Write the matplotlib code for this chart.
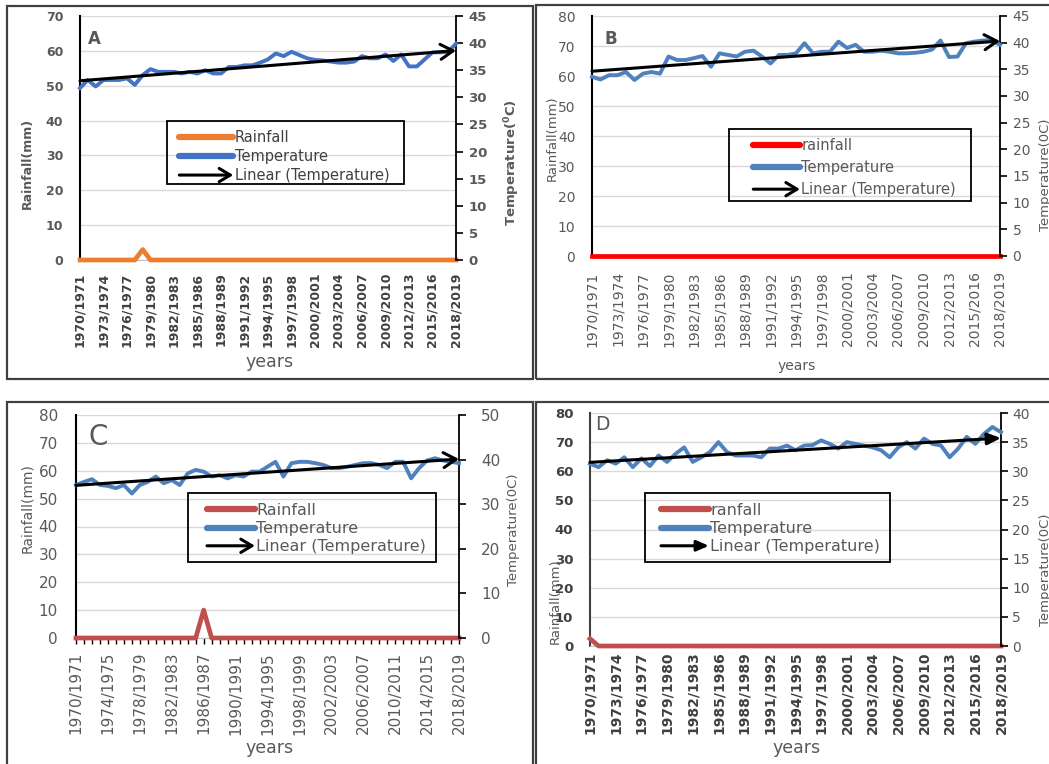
import numpy as np
import matplotlib
matplotlib.use("Agg")
import matplotlib.pyplot as plt
from matplotlib.patches import FancyArrowPatch, Rectangle
from matplotlib.lines import Line2D
from matplotlib.legend_handler import HandlerBase

# categories
years = [f"{y}/{y + 1}" for y in range(1970, 2019)]

# panel A
rain_a = [0, 0, 0, 0, 0, 0, 0, 0, 3, 0, 0, 0, 0, 0, 0, 0, 0, 0, 0, 0,
          0, 0, 0, 0, 0, 0, 0, 0, 0, 0, 0, 0, 0, 0, 0, 0, 0, 0, 0, 0,
          0, 0, 0, 0, 0, 0, 0, 0, 0]
temp_a = [31.7, 33.2, 32.0, 33.2, 33.2, 33.2, 33.5, 32.3, 34.1, 35.2,
          34.7, 34.7, 34.7, 34.4, 34.7, 34.4, 35.0, 34.4, 34.4, 35.6,
          35.6, 35.9, 35.9, 36.4, 37.0, 38.1, 37.6, 38.4, 37.8, 37.2,
          36.9, 36.8, 36.6, 36.4, 36.4, 36.6, 37.6, 37.2, 37.2, 37.9,
          36.7, 37.9, 35.7, 35.7, 37.0, 38.3, 38.3, 38.4, 39.9]

# panel B
rain_b = [0, 0, 0, 0, 0, 0, 0, 0, 0, 0, 0, 0, 0, 0, 0, 0, 0, 0, 0, 0,
          0, 0, 0, 0, 0, 0, 0, 0, 0, 0, 0, 0, 0, 0, 0, 0, 0, 0, 0, 0,
          0, 0, 0, 0, 0, 0, 0, 0, 0]
temp_b = [33.6, 33.1, 33.9, 33.9, 34.5, 33.0, 34.2, 34.5, 34.2, 37.4,
          36.75, 36.75, 37.1, 37.5, 35.5, 38.0, 37.7, 37.4, 38.3, 38.5,
          37.4, 36.1, 37.7, 37.7, 38.0, 39.9, 38.0, 38.3, 38.3, 40.2,
          39.0, 39.6, 38.3, 38.3, 38.5, 38.3, 38.0, 38.0, 38.1, 38.3,
          38.7, 40.4, 37.3, 37.4, 39.9, 40.2, 40.4, 40.5, 39.6]

# panel C
rain_c = [0, 0, 0, 0, 0, 0, 0, 0, 0, 0, 0, 0, 0, 0, 0, 0, 10, 0, 0, 0,
          0, 0, 0, 0, 0, 0, 0, 0, 0, 0, 0, 0, 0, 0, 0, 0, 0, 0, 0, 0,
          0, 0, 0, 0, 0, 0, 0, 0, 0]
temp_c = [34.3, 35.0, 35.6, 34.3, 34.1, 33.6, 34.3, 32.4, 34.3, 35.0,
          36.2, 34.7, 35.4, 34.3, 36.9, 37.7, 37.3, 36.2, 36.5, 35.8,
          36.5, 36.2, 37.3, 37.3, 38.4, 39.5, 36.2, 39.2, 39.5, 39.5,
          39.2, 38.8, 38.1, 38.1, 38.4, 38.8, 39.2, 39.2, 38.8, 38.1,
          39.5, 39.5, 35.8, 38.1, 39.8, 40.3, 39.8, 39.5, 39.2]

# panel D
rain_d = [2.5, 0, 0, 0, 0, 0, 0, 0, 0, 0, 0, 0, 0, 0, 0, 0, 0, 0, 0, 0,
          0, 0, 0, 0, 0, 0, 0, 0, 0, 0, 0, 0, 0, 0, 0, 0, 0, 0, 0, 0,
          0, 0, 0, 0, 0, 0, 0, 0, 0]
temp_d = [31.3, 30.7, 31.9, 31.3, 32.4, 30.7, 32.2, 30.9, 32.7, 31.6,
          33.0, 34.1, 31.6, 32.4, 33.3, 35.0, 33.3, 32.7, 32.7, 32.7,
          32.4, 33.9, 33.9, 34.4, 33.6, 34.4, 34.5, 35.3, 34.7, 33.9,
          35.0, 34.7, 34.4, 34.1, 33.6, 32.4, 34.1, 35.0, 33.9, 35.6,
          34.7, 34.4, 32.4, 33.9, 35.9, 34.7, 36.4, 37.6, 36.7]

W, H = 1049, 764
fig = plt.figure(figsize=(W / 100, H / 100), dpi=100)
GRAY = "#595959"
DARK = "#404040"


class TrendKey:
    pass


class HandlerTrend(HandlerBase):
    def __init__(self, style, scale):
        super().__init__()
        self.style = style
        self.scale = scale

    def create_artists(self, legend, orig_handle, xdescent, ydescent,
                       width, height, fontsize, trans):
        y = height / 2 - ydescent
        arr = FancyArrowPatch((-xdescent, y), (width - xdescent, y),
                              arrowstyle=self.style, mutation_scale=self.scale,
                              lw=2.2, color="black", shrinkA=0, shrinkB=0,
                              transform=trans)
        return [arr]


def box(l, t, r, b):
    return [l / W, 1 - b / H, (r - l) / W, (b - t) / H]


def frame(l, t, r, b, lw=1.6, color=DARK):
    fig.add_artist(Rectangle((l / W, 1 - b / H), (r - l) / W, (b - t) / H,
                             transform=fig.transFigure, fill=False,
                             lw=lw, edgecolor=color))


def ftext(px, py, s, **kw):
    fig.text(px / W, 1 - py / H, s, ha="center", va="center", **kw)


def panel(rain, temp, labels, st):
    ax = fig.add_axes(box(*st["pos"]))
    ax2 = ax.twinx()
    x = np.arange(len(years))

    ax.plot(x, rain, color=st["rain_c"], lw=3.4, clip_on=False, zorder=3)
    ax2.plot(x, temp, color=st["temp_c"], lw=2.8, clip_on=False, zorder=3)

    # linear trend with arrow head
    k, c = np.polyfit(x, temp, 1)
    ax2.annotate("", xy=(x[-1], k * x[-1] + c), xytext=(x[0], c),
                 arrowprops=dict(arrowstyle=st["arrow"], lw=2.2, color="black",
                                 mutation_scale=st["ms"], shrinkA=0, shrinkB=0),
                 annotation_clip=False)

    ax.set_xlim(0, len(x) - 1)
    ax.set_ylim(0, st["lmax"])
    ax.set_yticks(np.arange(0, st["lmax"] + 1, 10))
    ax2.set_ylim(0, st["rmax"])
    ax2.set_yticks(np.arange(0, st["rmax"] + 1, st["rstep"]))

    if st["xall"]:
        ax.set_xticks(x)
        ax.set_xticklabels([y if i % st["xstep"] == 0 else ""
                            for i, y in enumerate(years)])
    else:
        ax.set_xticks(x[::st["xstep"]])
        ax.set_xticklabels(years[::st["xstep"]])

    ax.grid(axis="y", color="#D9D9D9", lw=1)
    ax.set_axisbelow(True)

    for s in ["top", "right"]:
        ax.spines[s].set_visible(False)
    for s in ["top", "left", "bottom"]:
        ax2.spines[s].set_visible(False)
    ax.spines["left"].set_color(st["spine"])
    ax.spines["left"].set_linewidth(1.5)
    ax.spines["bottom"].set_color("#BFBFBF")
    ax2.spines["right"].set_color("black")
    ax2.spines["right"].set_linewidth(1.3)

    ax.tick_params(axis="y", length=0, pad=st["yl"][3],
                   labelsize=st["yl"][0], labelcolor=st["yl"][2])
    ax2.tick_params(axis="y", length=5, width=1.2, color="black",
                    direction="out", pad=st["yr"][3],
                    labelsize=st["yr"][0], labelcolor=st["yr"][2])
    ax.tick_params(axis="x", length=st["xtick_len"], width=1, color="black",
                   direction="out", labelrotation=90, pad=st["xl"][3],
                   labelsize=st["xl"][0], labelcolor=st["xl"][2])
    for lbl in ax.get_yticklabels():
        lbl.set_fontweight(st["yl"][1])
    for lbl in ax2.get_yticklabels():
        lbl.set_fontweight(st["yr"][1])
    for lbl in ax.get_xticklabels():
        lbl.set_fontweight(st["xl"][1])

    # panel letter
    lx, ly, lsz, lw_ = st["letter"]
    fig.text(lx / W, 1 - ly / H, st["name"], ha="left", va="top",
             fontsize=lsz, fontweight=lw_, color=GRAY)

    # axis titles
    px, py, sz, wt = st["ylab"]
    ftext(px, py, "Rainfall(mm)", rotation=90, fontsize=sz, fontweight=wt,
          color=GRAY)
    px, py, sz, wt = st["rlab"]
    ftext(px, py, st["rtext"], rotation=90, fontsize=sz, fontweight=wt,
          color=GRAY)
    px, py, sz = st["xlab"]
    ftext(px, py, "years", fontsize=sz, color=GRAY)

    # legend
    handles = [Line2D([], [], color=st["rain_c"], lw=4.5, solid_capstyle="round"),
               Line2D([], [], color=st["temp_c"], lw=4.5, solid_capstyle="round"),
               TrendKey()]
    ax_, ay_ = st["leg_at"]
    fig.legend(handles, labels, loc="upper left",
               bbox_to_anchor=(ax_ / W, 1 - ay_ / H),
               bbox_transform=fig.transFigure, frameon=False, borderpad=0,
               handlelength=st["hl"], handletextpad=0.1,
               labelspacing=st["ls"], fontsize=st["lfs"],
               labelcolor=st["lcol"],
               handler_map={TrendKey: HandlerTrend(st["leg_arrow"], st["leg_ms"])})
    frame(*st["leg_box"], lw=1.3, color="black")

    frame(*st["outer"])


open_arrow = "->,head_length=0.5,head_width=0.3"

style_a = dict(name="A", pos=(80, 16, 456, 260), rain_c="#ED7D31", temp_c="#4472C4",
               lmax=70, rmax=45, rstep=5, xstep=3, xall=False, xtick_len=0,
               spine="black", arrow=open_arrow, ms=18,
               yl=(9, "bold", GRAY, 12), yr=(9.5, "bold", GRAY, 4),
               xl=(9, "bold", DARK, 9),
               letter=(88, 30, 12, "bold"),
               ylab=(27, 163, 9, "bold"),
               rlab=(512, 163, 9.5, "bold"), rtext=r"Temperature($\mathbf{^{0}}$C)",
               xlab=(270, 362, 12.5),
               leg_at=(172, 123), leg_box=(167, 121, 404, 184), hl=3.7, ls=0.27,
               lfs=10.5, lcol=DARK, leg_arrow="->,head_length=0.5,head_width=0.3",
               leg_ms=16, outer=(7, 6, 533, 379))

style_b = dict(name="B", pos=(592, 16, 1000, 256), rain_c="#FF0000", temp_c="#4F81BD",
               lmax=80, rmax=45, rstep=5, xstep=3, xall=False, xtick_len=0,
               spine="black", arrow=open_arrow, ms=18,
               yl=(10, "normal", GRAY, 12), yr=(10, "normal", GRAY, 4),
               xl=(10, "normal", GRAY, 11),
               letter=(604, 30, 12, "bold"),
               ylab=(552, 138, 9.5, "normal"),
               rlab=(1045, 175, 9.5, "normal"), rtext="Temperature(0C)",
               xlab=(797, 366, 10),
               leg_at=(746, 131), leg_box=(729, 129, 971, 201), hl=3.2, ls=0.48,
               lfs=10.5, lcol=GRAY, leg_arrow="->,head_length=0.5,head_width=0.3",
               leg_ms=16, outer=(536, 5, 1055, 379))

style_c = dict(name="C", pos=(76, 415, 459, 638), rain_c="#C0504D", temp_c="#4F81BD",
               lmax=80, rmax=50, rstep=10, xstep=4, xall=True, xtick_len=4,
               spine="black", arrow=open_arrow, ms=18,
               yl=(11, "normal", GRAY, 13), yr=(11, "normal", GRAY, 11),
               xl=(11, "normal", GRAY, 6),
               letter=(89, 423, 20, "normal"),
               ylab=(27, 508, 10, "normal"),
               rlab=(513, 530, 9.5, "normal"), rtext="Temperature(0C)",
               xlab=(270, 748, 12.5),
               leg_at=(199, 495), leg_box=(188, 493, 436, 562), hl=3.0, ls=0.2,
               lfs=11.5, lcol=GRAY, leg_arrow="->,head_length=0.5,head_width=0.3",
               leg_ms=16, outer=(7, 402, 533, 770))

style_d = dict(name="D", pos=(590, 413, 1001, 646), rain_c="#C0504D", temp_c="#4F81BD",
               lmax=80, rmax=40, rstep=5, xstep=3, xall=False, xtick_len=0,
               spine=DARK, arrow="-|>,head_length=0.8,head_width=0.35", ms=10,
               yl=(9.5, "bold", DARK, 12), yr=(10, "normal", GRAY, 3),
               xl=(10, "bold", DARK, 4),
               letter=(595, 415, 13.5, "normal"),
               ylab=(555, 601, 9.5, "normal"),
               rlab=(1046, 570, 9.5, "normal"), rtext="Temperature(0C)",
               xlab=(797, 748, 12.5),
               leg_at=(653, 495), leg_box=(645, 493, 890, 562), hl=3.0, ls=0.2,
               lfs=11.5, lcol=GRAY, leg_arrow="-|>,head_length=0.8,head_width=0.35",
               leg_ms=9, outer=(536, 402, 1055, 770))

panel(rain_a, temp_a, ["Rainfall", "Temperature", "Linear (Temperature)"], style_a)
panel(rain_b, temp_b, ["rainfall", "Temperature", "Linear (Temperature)"], style_b)
panel(rain_c, temp_c, ["Rainfall", "Temperature", "Linear (Temperature)"], style_c)
panel(rain_d, temp_d, ["ranfall", "Temperature", "Linear (Temperature)"], style_d)

fig.savefig("out.png", dpi=100)
